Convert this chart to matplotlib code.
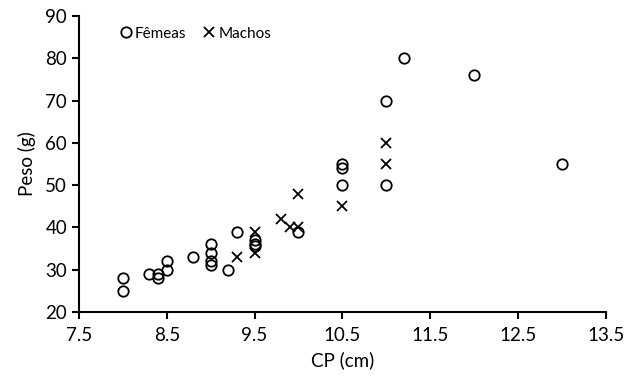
import matplotlib
matplotlib.use("Agg")
import matplotlib.pyplot as plt

plt.rcParams['font.family'] = ['Lato', 'DejaVu Sans']

# Comprimento padrão (cm) e peso (g) por sexo
cp_femeas = [8.0, 8.0, 8.3, 8.4, 8.4, 8.5, 8.5, 8.8, 9.0, 9.0, 9.0, 9.0, 9.2, 9.3,
             9.5, 9.5, 9.5, 10.0, 10.5, 10.5, 10.5, 11.0, 11.0, 11.2, 12.0, 13.0]
peso_femeas = [28, 25, 29, 29, 28, 32, 30, 33, 36, 34, 32, 31, 30, 39,
               37, 36, 35.5, 39, 55, 54, 50, 70, 50, 80, 76, 55]

cp_machos = [9.3, 9.5, 9.5, 9.8, 9.9, 10.0, 10.0, 10.5, 11.0, 11.0]
peso_machos = [33, 39, 34, 42, 40, 40, 48, 45, 60, 55]

x_ticks = [7.5, 8.5, 9.5, 10.5, 11.5, 12.5, 13.5]
y_ticks = [20, 30, 40, 50, 60, 70, 80, 90]

fig = plt.figure(figsize=(6.29, 3.85), dpi=100)
ax = fig.add_axes([0.1256, 0.1896, 0.8374, 0.7688])

ax.plot(cp_femeas, peso_femeas, linestyle='none', marker='o', markersize=7.5,
        markerfacecolor='none', markeredgecolor='black', markeredgewidth=1.3,
        label='Fêmeas')
ax.plot(cp_machos, peso_machos, linestyle='none', marker='x', markersize=7,
        color='black', markeredgewidth=1.3, label='Machos')

ax.set_xlim(7.5, 13.5)
ax.set_ylim(20, 90)
ax.set_xticks(x_ticks)
ax.set_xticklabels([f"{t:.1f}" for t in x_ticks])
ax.set_yticks(y_ticks)

for s in ['top', 'right']:
    ax.spines[s].set_visible(False)
for s in ['left', 'bottom']:
    ax.spines[s].set_linewidth(1.5)
ax.tick_params(axis='both', direction='out', length=5, width=1.5,
               labelsize=13.5, colors='black')
ax.tick_params(axis='x', pad=6)

ax.set_xlabel('CP (cm)', fontsize=13.5, labelpad=5)
ax.set_ylabel('Peso (g)', fontsize=13.5, labelpad=7)

ax.legend(loc='upper left', ncol=2, frameon=False, fontsize=11,
          handlelength=0.6, handletextpad=0.3, columnspacing=1.2,
          bbox_to_anchor=(0.06, 1.0), borderaxespad=0.3)

fig.savefig('out.png', dpi=100)
